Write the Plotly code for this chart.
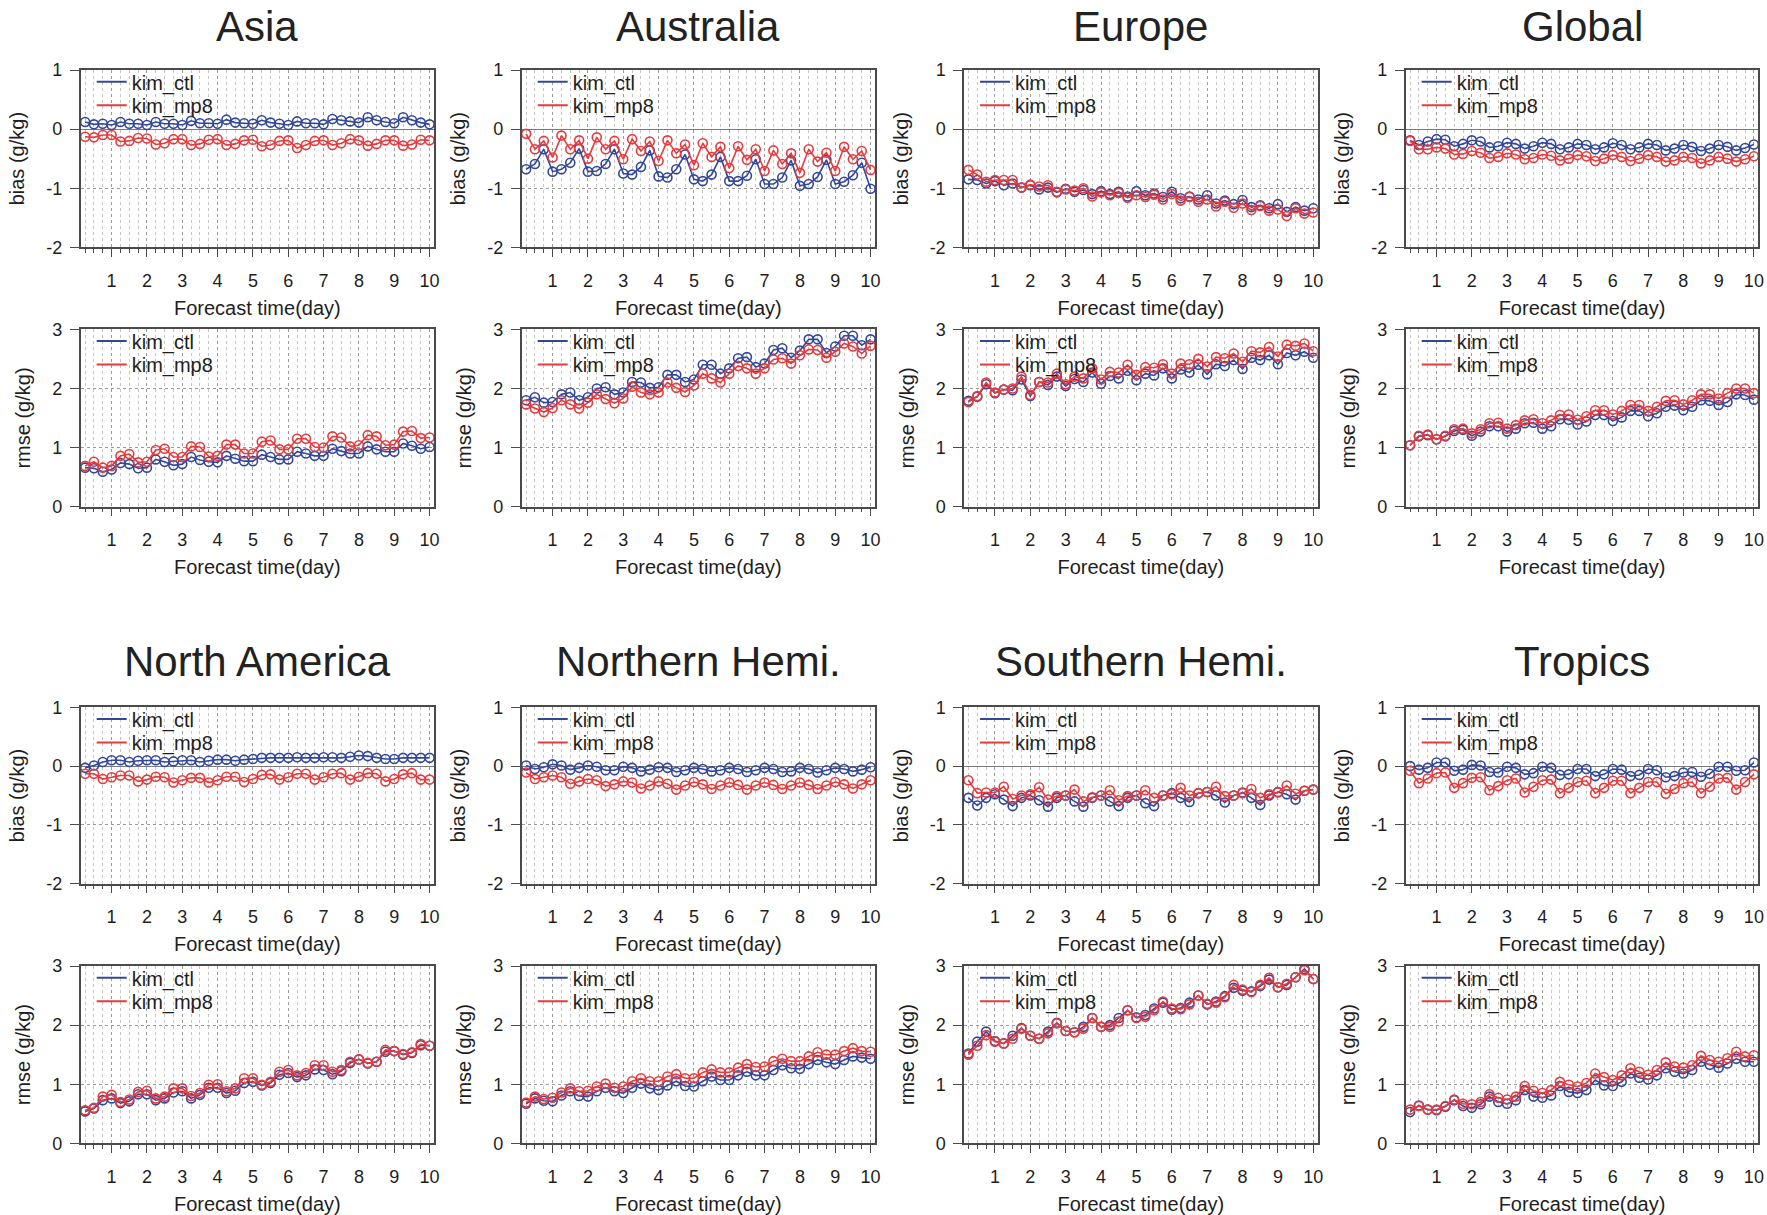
import plotly.graph_objects as go

# ---------------- data ----------------
lead_hours = [6, 12, 18, 24, 30, 36, 42, 48, 54, 60, 66, 72, 78, 84, 90, 96, 102, 108, 114, 120,
              126, 132, 138, 144, 150, 156, 162, 168, 174, 180, 186, 192, 198, 204, 210, 216, 222, 228, 234, 240]
day_ticks = [1, 2, 3, 4, 5, 6, 7, 8, 9, 10]
bias_ticks = [-2, -1, 0, 1]
rmse_ticks = [0, 1, 2, 3]
series_names = ["kim_ctl", "kim_mp8"]
region_titles = ["Asia", "Australia", "Europe", "Global",
                 "North America", "Northern Hemi.", "Southern Hemi.", "Tropics"]

asia_bias_ctl = [0.12,0.08,0.09,0.07,0.12,0.09,0.09,0.07,0.12,0.09,0.09,0.07,0.14,0.10,0.10,0.09,0.16,0.11,0.10,0.09,0.15,0.11,0.09,0.07,0.13,0.10,0.10,0.08,0.17,0.15,0.13,0.11,0.20,0.15,0.12,0.10,0.20,0.15,0.11,0.08]
asia_bias_mp8 = [-0.13,-0.14,-0.10,-0.10,-0.21,-0.20,-0.15,-0.16,-0.26,-0.24,-0.17,-0.17,-0.27,-0.25,-0.18,-0.17,-0.27,-0.25,-0.19,-0.18,-0.29,-0.27,-0.20,-0.19,-0.32,-0.27,-0.20,-0.19,-0.27,-0.24,-0.17,-0.19,-0.28,-0.25,-0.19,-0.19,-0.28,-0.26,-0.18,-0.19]
asia_rmse_ctl = [0.66,0.65,0.59,0.63,0.74,0.72,0.65,0.66,0.80,0.76,0.70,0.72,0.84,0.79,0.76,0.75,0.86,0.81,0.77,0.77,0.88,0.84,0.80,0.80,0.93,0.90,0.86,0.86,0.98,0.94,0.90,0.90,1.02,0.97,0.93,0.93,1.07,1.03,0.98,1.01]
asia_rmse_mp8 = [0.69,0.76,0.66,0.69,0.86,0.89,0.75,0.76,0.96,0.98,0.84,0.84,1.02,1.01,0.85,0.86,1.05,1.05,0.90,0.90,1.10,1.12,0.97,0.97,1.15,1.15,1.01,1.00,1.19,1.17,1.02,1.04,1.21,1.19,1.04,1.05,1.27,1.28,1.16,1.17]

aus_bias_ctl = [-0.68,-0.59,-0.34,-0.72,-0.68,-0.57,-0.33,-0.72,-0.71,-0.59,-0.34,-0.75,-0.77,-0.64,-0.36,-0.80,-0.82,-0.68,-0.43,-0.85,-0.88,-0.77,-0.47,-0.88,-0.88,-0.79,-0.51,-0.93,-0.93,-0.82,-0.53,-0.96,-0.93,-0.81,-0.52,-0.93,-0.89,-0.78,-0.57,-1.01]
aus_bias_mp8 = [-0.08,-0.34,-0.20,-0.48,-0.11,-0.34,-0.19,-0.50,-0.14,-0.34,-0.20,-0.51,-0.17,-0.37,-0.21,-0.54,-0.19,-0.41,-0.26,-0.61,-0.24,-0.47,-0.30,-0.66,-0.29,-0.52,-0.34,-0.71,-0.36,-0.59,-0.41,-0.74,-0.34,-0.55,-0.40,-0.71,-0.30,-0.51,-0.37,-0.69]
aus_rmse_ctl = [1.80,1.85,1.76,1.77,1.90,1.93,1.80,1.85,2.00,2.02,1.90,1.93,2.11,2.10,2.01,2.02,2.23,2.23,2.11,2.15,2.40,2.40,2.25,2.34,2.51,2.53,2.36,2.42,2.65,2.68,2.52,2.64,2.83,2.83,2.60,2.71,2.89,2.89,2.73,2.83]
aus_rmse_mp8 = [1.73,1.66,1.60,1.67,1.80,1.73,1.66,1.76,1.90,1.82,1.75,1.83,2.03,1.93,1.90,1.93,2.10,2.01,1.94,2.05,2.25,2.17,2.10,2.25,2.38,2.34,2.25,2.34,2.49,2.51,2.42,2.56,2.66,2.65,2.52,2.62,2.76,2.71,2.59,2.72]

eur_bias_ctl = [-0.85,-0.86,-0.92,-0.88,-0.95,-0.92,-0.99,-0.95,-1.02,-0.99,-1.07,-1.01,-1.06,-1.03,-1.10,-1.05,-1.10,-1.06,-1.14,-1.05,-1.12,-1.09,-1.15,-1.06,-1.17,-1.14,-1.19,-1.12,-1.26,-1.21,-1.27,-1.20,-1.32,-1.29,-1.34,-1.27,-1.40,-1.32,-1.38,-1.34]
eur_bias_mp8 = [-0.69,-0.77,-0.89,-0.86,-0.86,-0.86,-0.99,-0.94,-0.97,-0.95,-1.06,-1.02,-1.04,-1.00,-1.14,-1.07,-1.12,-1.08,-1.16,-1.12,-1.15,-1.11,-1.19,-1.10,-1.21,-1.15,-1.23,-1.19,-1.31,-1.23,-1.33,-1.26,-1.37,-1.30,-1.38,-1.36,-1.47,-1.34,-1.43,-1.41]
eur_rmse_ctl = [1.79,1.86,2.07,1.92,1.98,1.97,2.15,1.87,2.11,2.06,2.20,2.04,2.16,2.11,2.27,2.08,2.21,2.17,2.30,2.14,2.25,2.22,2.34,2.17,2.32,2.27,2.40,2.24,2.41,2.38,2.48,2.33,2.52,2.48,2.56,2.41,2.60,2.56,2.62,2.52]
eur_rmse_mp8 = [1.77,1.87,2.10,1.93,1.98,2.00,2.20,1.89,2.11,2.10,2.25,2.07,2.20,2.17,2.34,2.15,2.28,2.27,2.40,2.23,2.36,2.35,2.41,2.25,2.42,2.41,2.50,2.37,2.53,2.51,2.59,2.45,2.63,2.61,2.70,2.54,2.74,2.72,2.76,2.63]

glb_bias_ctl = [-0.19,-0.27,-0.21,-0.17,-0.18,-0.29,-0.25,-0.19,-0.21,-0.31,-0.29,-0.23,-0.25,-0.33,-0.29,-0.23,-0.25,-0.34,-0.31,-0.25,-0.27,-0.34,-0.31,-0.24,-0.27,-0.34,-0.31,-0.25,-0.27,-0.36,-0.33,-0.27,-0.30,-0.37,-0.33,-0.27,-0.30,-0.36,-0.32,-0.26]
glb_bias_mp8 = [-0.20,-0.34,-0.34,-0.31,-0.33,-0.43,-0.42,-0.37,-0.40,-0.49,-0.47,-0.41,-0.43,-0.51,-0.49,-0.43,-0.45,-0.53,-0.50,-0.44,-0.46,-0.54,-0.50,-0.44,-0.47,-0.54,-0.50,-0.44,-0.47,-0.55,-0.53,-0.47,-0.49,-0.58,-0.53,-0.47,-0.50,-0.55,-0.51,-0.46]
glb_rmse_ctl = [1.04,1.19,1.21,1.14,1.19,1.28,1.30,1.20,1.27,1.36,1.36,1.27,1.32,1.41,1.42,1.32,1.36,1.48,1.47,1.39,1.44,1.55,1.55,1.45,1.51,1.62,1.62,1.53,1.58,1.69,1.71,1.63,1.69,1.80,1.79,1.72,1.77,1.90,1.89,1.81]
glb_rmse_mp8 = [1.04,1.20,1.22,1.14,1.20,1.31,1.32,1.24,1.31,1.41,1.42,1.32,1.38,1.46,1.48,1.41,1.46,1.55,1.56,1.47,1.53,1.63,1.63,1.56,1.62,1.72,1.72,1.62,1.69,1.79,1.80,1.73,1.80,1.90,1.90,1.83,1.92,2.00,2.00,1.92]

nam_bias_ctl = [-0.03,0.01,0.07,0.10,0.10,0.07,0.09,0.10,0.10,0.07,0.08,0.10,0.10,0.07,0.09,0.11,0.11,0.09,0.11,0.12,0.14,0.14,0.14,0.14,0.15,0.14,0.14,0.15,0.15,0.14,0.16,0.18,0.17,0.14,0.12,0.12,0.14,0.14,0.14,0.14]
nam_bias_mp8 = [-0.13,-0.13,-0.22,-0.19,-0.16,-0.16,-0.26,-0.23,-0.18,-0.19,-0.28,-0.24,-0.20,-0.20,-0.28,-0.24,-0.18,-0.18,-0.27,-0.22,-0.15,-0.14,-0.23,-0.19,-0.13,-0.13,-0.23,-0.19,-0.13,-0.12,-0.23,-0.18,-0.12,-0.13,-0.26,-0.22,-0.14,-0.12,-0.23,-0.23]
nam_rmse_ctl = [0.54,0.59,0.73,0.76,0.68,0.71,0.83,0.83,0.73,0.76,0.86,0.88,0.76,0.82,0.94,0.94,0.85,0.89,1.02,1.04,0.98,1.02,1.16,1.19,1.12,1.15,1.25,1.24,1.17,1.22,1.36,1.42,1.35,1.38,1.55,1.56,1.50,1.53,1.66,1.65]
nam_rmse_mp8 = [0.56,0.60,0.79,0.82,0.70,0.74,0.87,0.89,0.76,0.79,0.93,0.93,0.80,0.85,0.99,1.00,0.88,0.93,1.10,1.10,0.99,1.04,1.21,1.24,1.15,1.19,1.32,1.32,1.21,1.24,1.38,1.42,1.36,1.38,1.58,1.56,1.51,1.54,1.68,1.65]

nh_bias_ctl = [0.01,-0.05,-0.02,0.03,0.01,-0.06,-0.03,0.01,-0.01,-0.07,-0.07,-0.01,-0.03,-0.09,-0.06,-0.02,-0.03,-0.10,-0.07,-0.03,-0.05,-0.09,-0.07,-0.03,-0.05,-0.10,-0.07,-0.03,-0.05,-0.10,-0.09,-0.03,-0.05,-0.11,-0.07,-0.03,-0.05,-0.09,-0.06,-0.02]
nh_bias_mp8 = [-0.11,-0.22,-0.19,-0.16,-0.19,-0.30,-0.26,-0.22,-0.24,-0.34,-0.31,-0.26,-0.28,-0.38,-0.33,-0.26,-0.30,-0.40,-0.33,-0.27,-0.31,-0.39,-0.33,-0.28,-0.32,-0.40,-0.33,-0.28,-0.32,-0.39,-0.33,-0.28,-0.32,-0.39,-0.33,-0.27,-0.31,-0.38,-0.31,-0.24]
nh_rmse_ctl = [0.67,0.76,0.72,0.71,0.81,0.88,0.80,0.79,0.88,0.94,0.88,0.85,0.94,1.01,0.93,0.90,0.98,1.05,0.97,0.96,1.05,1.13,1.07,1.07,1.15,1.21,1.15,1.15,1.24,1.32,1.27,1.26,1.34,1.41,1.37,1.34,1.41,1.47,1.45,1.43]
nh_rmse_mp8 = [0.69,0.79,0.75,0.77,0.86,0.93,0.88,0.89,0.96,1.01,0.94,0.96,1.05,1.10,1.05,1.05,1.13,1.17,1.10,1.10,1.20,1.25,1.20,1.20,1.28,1.34,1.29,1.30,1.39,1.43,1.39,1.39,1.47,1.54,1.50,1.50,1.56,1.61,1.56,1.55]

sh_bias_ctl = [-0.54,-0.67,-0.54,-0.48,-0.57,-0.68,-0.54,-0.50,-0.58,-0.69,-0.54,-0.50,-0.60,-0.69,-0.54,-0.50,-0.60,-0.68,-0.54,-0.50,-0.63,-0.68,-0.50,-0.46,-0.54,-0.61,-0.46,-0.44,-0.50,-0.62,-0.50,-0.45,-0.54,-0.66,-0.50,-0.44,-0.48,-0.57,-0.42,-0.40]
sh_bias_mp8 = [-0.24,-0.46,-0.45,-0.45,-0.35,-0.56,-0.50,-0.48,-0.36,-0.57,-0.51,-0.50,-0.40,-0.60,-0.53,-0.50,-0.41,-0.58,-0.51,-0.50,-0.41,-0.54,-0.50,-0.48,-0.37,-0.50,-0.46,-0.44,-0.35,-0.51,-0.50,-0.46,-0.39,-0.54,-0.48,-0.45,-0.33,-0.47,-0.42,-0.40]
sh_rmse_ctl = [1.52,1.72,1.89,1.73,1.69,1.82,1.95,1.82,1.77,1.89,2.04,1.90,1.88,1.97,2.12,1.97,2.00,2.12,2.25,2.13,2.17,2.28,2.38,2.26,2.29,2.38,2.50,2.35,2.40,2.49,2.63,2.58,2.57,2.66,2.77,2.64,2.68,2.81,2.95,2.78]
sh_rmse_mp8 = [1.50,1.65,1.83,1.72,1.69,1.77,1.94,1.82,1.77,1.86,2.03,1.90,1.88,1.94,2.12,1.97,1.97,2.06,2.25,2.12,2.14,2.25,2.40,2.28,2.27,2.35,2.50,2.36,2.38,2.47,2.68,2.60,2.56,2.68,2.80,2.64,2.70,2.81,2.93,2.78]

trp_bias_ctl = [0.00,-0.06,-0.03,0.06,0.06,-0.08,-0.06,0.02,0.01,-0.10,-0.11,-0.01,-0.03,-0.14,-0.12,-0.01,-0.03,-0.15,-0.14,-0.05,-0.05,-0.17,-0.14,-0.05,-0.06,-0.17,-0.15,-0.05,-0.07,-0.19,-0.17,-0.11,-0.10,-0.18,-0.13,-0.01,-0.01,-0.08,-0.07,0.06]
trp_bias_mp8 = [-0.08,-0.29,-0.21,-0.12,-0.11,-0.37,-0.29,-0.20,-0.19,-0.41,-0.34,-0.24,-0.21,-0.45,-0.35,-0.24,-0.23,-0.46,-0.37,-0.27,-0.25,-0.46,-0.37,-0.25,-0.25,-0.46,-0.37,-0.27,-0.27,-0.47,-0.39,-0.29,-0.27,-0.46,-0.35,-0.21,-0.20,-0.40,-0.27,-0.14]
trp_rmse_ctl = [0.53,0.64,0.57,0.56,0.62,0.73,0.63,0.60,0.66,0.79,0.70,0.67,0.73,0.90,0.79,0.77,0.81,0.97,0.87,0.85,0.90,1.07,0.98,0.97,1.04,1.18,1.11,1.08,1.15,1.27,1.21,1.18,1.24,1.38,1.33,1.28,1.35,1.43,1.38,1.38]
trp_rmse_mp8 = [0.57,0.63,0.57,0.57,0.63,0.74,0.67,0.66,0.70,0.83,0.77,0.74,0.79,0.97,0.89,0.85,0.90,1.04,0.99,0.96,1.02,1.18,1.12,1.07,1.15,1.27,1.21,1.16,1.24,1.37,1.30,1.28,1.32,1.48,1.41,1.38,1.44,1.55,1.47,1.49]

region_series = [
    (asia_bias_ctl, asia_bias_mp8, asia_rmse_ctl, asia_rmse_mp8),
    (aus_bias_ctl, aus_bias_mp8, aus_rmse_ctl, aus_rmse_mp8),
    (eur_bias_ctl, eur_bias_mp8, eur_rmse_ctl, eur_rmse_mp8),
    (glb_bias_ctl, glb_bias_mp8, glb_rmse_ctl, glb_rmse_mp8),
    (nam_bias_ctl, nam_bias_mp8, nam_rmse_ctl, nam_rmse_mp8),
    (nh_bias_ctl, nh_bias_mp8, nh_rmse_ctl, nh_rmse_mp8),
    (sh_bias_ctl, sh_bias_mp8, sh_rmse_ctl, sh_rmse_mp8),
    (trp_bias_ctl, trp_bias_mp8, trp_rmse_ctl, trp_rmse_mp8),
]

# ---------------- layout / styling ----------------
W, H = 1767, 1215
COL_PX = [(80.7, 434.0), (521.7, 875.0), (964.0, 1317.7), (1405.7, 1758.3)]
ROW_PX = [(70.0, 247.3), (329.3, 506.7), (707.3, 883.7), (966.0, 1143.3)]
TITLE_TOP_PX = [0.5, 636]
BLUE = "#33479a"
RED = "#e63a3c"
COLORS = [BLUE, RED]
FRAME = "#4a4a4a"
TXT = "#1e1e1e"
SANS = "Liberation Sans, Arial, sans-serif"

days = [h / 24 for h in lead_hours]

fig = go.Figure()
layout = dict(width=W, height=H, margin=dict(l=0, r=0, t=0, b=0, autoexpand=False),
              paper_bgcolor="white", plot_bgcolor="white", showlegend=True,
              font=dict(family=SANS, color=TXT), annotations=[])

legend_count = 0
for r, series in enumerate(region_series):
    g, c = divmod(r, 4)
    x0, x1 = COL_PX[c]
    for m in range(2):  # 0 = bias, 1 = rmse
        n = 1 + r * 2 + m
        xa = "x" if n == 1 else f"x{n}"
        ya = "y" if n == 1 else f"y{n}"
        y_top, y_bot = ROW_PX[g * 2 + m]
        vals = series[m * 2: m * 2 + 2]
        for s in range(2):
            fig.add_trace(go.Scatter(
                x=days, y=vals[s], xaxis=xa, yaxis=ya, mode="lines+markers",
                line=dict(color=COLORS[s], width=1.6),
                marker=dict(symbol="circle-open", size=9, color=COLORS[s], line=dict(width=1.6)),
                showlegend=False, hoverinfo="skip"))
            legend_count += 1
            lid = "legend" if legend_count == 1 else f"legend{legend_count}"
            fig.add_trace(go.Scatter(
                x=[None], y=[None], xaxis=xa, yaxis=ya, mode="lines", name=series_names[s],
                line=dict(color=COLORS[s], width=2), legend=lid, showlegend=True))
            layout[lid] = dict(
                x=(x0 + 11) / W, y=1 - (y_top + 11.75 + 23.5 * s) / H, xanchor="left", yanchor="middle",
                bgcolor="rgba(0,0,0,0)", borderwidth=0, itemwidth=30,
                font=dict(family=SANS, size=20, color=TXT), tracegroupgap=0)

        layout["xaxis" if n == 1 else f"xaxis{n}"] = dict(
            domain=[x0 / W, x1 / W], anchor=ya, range=[0.125, 10.125], automargin=False,
            tickmode="array", tickvals=day_ticks, ticktext=[str(v) for v in day_ticks],
            ticks="outside", ticklen=8, tickwidth=1.2, tickcolor=FRAME,
            tickfont=dict(family=SANS, size=18, color=TXT), ticklabelstandoff=8,
            showline=True, mirror=True, linecolor=FRAME, linewidth=1.5,
            showgrid=True, gridcolor="#9a9a9a", griddash="dot", gridwidth=1, zeroline=False,
            minor=dict(tickmode="linear", tick0=0, dtick=0.25, ticks="outside", ticklen=4,
                       tickwidth=1, tickcolor=FRAME, showgrid=True, gridcolor="#c4c4c4",
                       griddash="dot", gridwidth=1),
            title=dict(text="Forecast time(day)", font=dict(family=SANS, size=20, color=TXT), standoff=11))
        ticks = bias_ticks if m == 0 else rmse_ticks
        layout["yaxis" if n == 1 else f"yaxis{n}"] = dict(
            domain=[1 - y_bot / H, 1 - y_top / H], anchor=xa, automargin=False,
            range=[-2, 1] if m == 0 else [0, 3],
            tickmode="array", tickvals=ticks, ticktext=[str(v) for v in ticks],
            ticks="outside", ticklen=9, tickwidth=1.2, tickcolor=FRAME,
            tickfont=dict(family=SANS, size=18, color=TXT), ticklabelstandoff=4,
            showline=True, mirror=True, linecolor=FRAME, linewidth=1.5,
            showgrid=True, gridcolor="#9a9a9a", griddash="dot", gridwidth=1,
            zeroline=(m == 0), zerolinecolor="#7a7a7a", zerolinewidth=1.2,
            title=dict(text="bias (g/kg)" if m == 0 else "rmse (g/kg)",
                       font=dict(family=SANS, size=20, color=TXT), standoff=16))

    layout["annotations"].append(dict(
        text=region_titles[r], xref="paper", yref="paper",
        x=(x0 + x1) / 2 / W, y=1 - TITLE_TOP_PX[g] / H, xanchor="center", yanchor="top",
        showarrow=False, font=dict(family=SANS, size=42, color="#222222")))

fig.update_layout(layout)
fig.write_html("out.html")
